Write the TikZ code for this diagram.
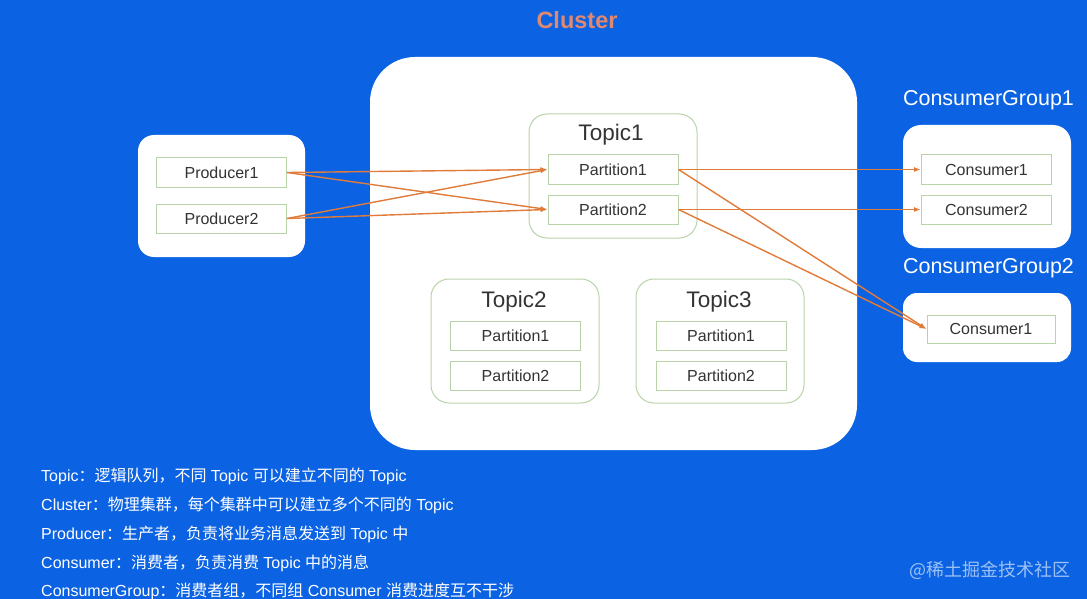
\documentclass[tikz,border=0pt]{standalone}
\usepackage{fontspec}
\usetikzlibrary{arrows.meta}
\setmainfont{Liberation Sans}
\newfontfamily\cjk{Noto Sans CJK SC}
\newcommand\zhtxt[1]{{\cjk\fontsize{16}{18}\selectfont #1}}
\definecolor{bg}{HTML}{0B63E3}
\definecolor{gborder}{HTML}{B9D3A8}
\definecolor{arrowc}{HTML}{E07B3A}
\definecolor{titlec}{HTML}{E08870}
\definecolor{txt}{HTML}{333333}
\begin{document}
\begin{tikzpicture}[x=1pt,y=-1pt,
  whitebox/.style={draw=none,fill=white,rounded corners=#1,inner sep=0pt},
  whitebox/.default=16pt,
  topicbox/.style={draw=gborder,line width=1pt,fill=white,rounded corners=18pt,inner sep=0pt,minimum width=168pt,minimum height=124pt},
  part/.style={draw=gborder,line width=1pt,fill=white,inner sep=0pt,minimum width=130pt,minimum height=29pt,font=\fontsize{16}{18}\selectfont,text=txt},
  toptitle/.style={font=\fontsize{22.5}{26}\selectfont,text=txt},
  grouptitle/.style={font=\fontsize{21.5}{25}\selectfont,text=white},
  note/.style={anchor=west,inner sep=0pt,text=white,font=\fontsize{16}{18}\selectfont},
  arr/.style={draw=arrowc,line width=1.4pt,-{Latex[length=7pt,width=5pt]}},
]
\useasboundingbox (0,0) rectangle (1087,599);
\fill[bg] (0,0) rectangle (1087,599);

% title
\node[font=\bfseries\fontsize{23.5}{27}\selectfont,text=titlec] (clt) at (577,20) {Cluster};

% cluster box
\node[whitebox=45pt,minimum width=487pt,minimum height=393pt] (cluster) at (613.5,253.5) {};

% producer group
\node[whitebox=16pt,minimum width=167pt,minimum height=122pt] (pg) at (221.5,196) {};
\node[part] (p1) at (221.5,172.5) {Producer1};
\node[part] (p2) at (221.5,218.5) {Producer2};

% topic1
\node[topicbox] (t1) at (613,176) {};
\node[toptitle] (t1t) at (611,135) {Topic1};
\node[part] (t1p1) at (613,169.5) {Partition1};
\node[part] (t1p2) at (613,209.5) {Partition2};

% topic2
\node[topicbox] (t2) at (515,341) {};
\node[toptitle] (t2t) at (514,302) {Topic2};
\node[part] (t2p1) at (515.5,335.5) {Partition1};
\node[part] (t2p2) at (515.5,375.5) {Partition2};

% topic3
\node[topicbox] (t3) at (720,341) {};
\node[toptitle] (t3t) at (719,302) {Topic3};
\node[part] (t3p1) at (721,335.5) {Partition1};
\node[part] (t3p2) at (721,375.5) {Partition2};

% consumer group 1
\node[grouptitle] (cg1t) at (988.5,100) {ConsumerGroup1};
\node[whitebox=18pt,minimum width=168pt,minimum height=123pt] (cg1) at (987,186.5) {};
\node[part] (c11) at (986.5,169.5) {Consumer1};
\node[part] (c12) at (986.5,209.5) {Consumer2};

% consumer group 2
\node[grouptitle] (cg2t) at (988.5,268) {ConsumerGroup2};
\node[whitebox=14pt,minimum width=168pt,minimum height=69pt] (cg2) at (987,327.5) {};
\node[part,minimum width=128pt,minimum height=28pt] (c21) at (991,329) {Consumer1};

% arrows
\draw[arr] (p1.east) -- (t1p1.west);
\draw[arr] (p1.east) -- (t1p2.west);
\draw[arr] (p2.east) -- (t1p1.west);
\draw[arr] (p2.east) -- (t1p2.west);
\draw[arr] (t1p1.east) -- (c11.west);
\draw[arr] (t1p1.east) -- (c21.west);
\draw[arr] (t1p2.east) -- (c12.west);
\draw[arr] (t1p2.east) -- (c21.west);

% notes
\node[note] (n1) at (41,476) {Topic\zhtxt{：逻辑队列，不同} Topic \zhtxt{可以建立不同的} Topic};
\node[note] (n2) at (41,505) {Cluster\zhtxt{：物理集群，每个集群中可以建立多个不同的} Topic};
\node[note] (n3) at (41,534) {Producer\zhtxt{：生产者，负责将业务消息发送到} Topic \zhtxt{中}};
\node[note] (n4) at (41,563) {Consumer\zhtxt{：消费者，负责消费} Topic \zhtxt{中的消息}};
\node[note] (n5) at (41,591) {ConsumerGroup\zhtxt{：消费者组，不同组} Consumer \zhtxt{消费进度互不干涉}};

% watermark
\node[text=white,opacity=0.6,font=\cjk\fontsize{18}{22}\selectfont] (wm) at (990,570) {@稀土掘金技术社区};
\end{tikzpicture}
\end{document}
